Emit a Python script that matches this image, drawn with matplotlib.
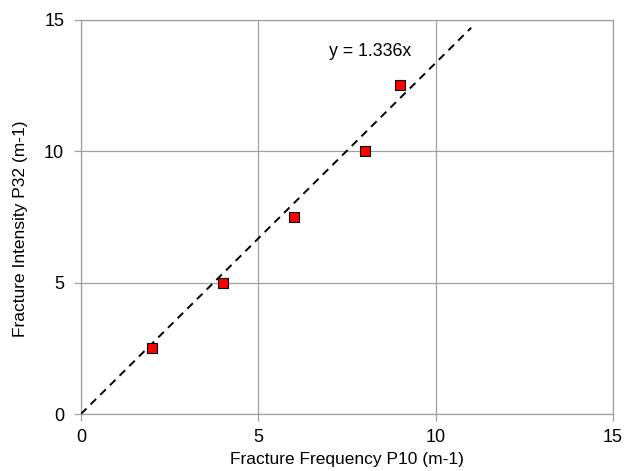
import numpy as np
import matplotlib.pyplot as plt

plt.rcParams['font.family'] = ['Liberation Sans', 'DejaVu Sans']

# measured fracture data
p10 = [2, 4, 6, 8, 9]
p32 = [2.5, 5, 7.5, 10, 12.5]
slope = 1.336
fit_x = [0, 11]

fig = plt.figure(figsize=(6.32, 4.71), dpi=100)
ax = fig.add_axes([0.128, 0.121, 0.842, 0.837])

fit_y = [slope * v for v in fit_x]
ax.plot(fit_x, fit_y, color='black', linestyle=(0, (4, 3)), linewidth=1.4, zorder=3)
ax.plot(p10, p32, linestyle='none', marker='s', markersize=7,
        markerfacecolor='red', markeredgecolor='black', markeredgewidth=0.8, zorder=4)
ax.text(7.0, 13.8, 'y = 1.336x', fontsize=12.8, ha='left', va='center')

ax.set_xlim(0, 15)
ax.set_ylim(0, 15)
ax.set_xticks([0, 5, 10, 15])
ax.set_yticks([0, 5, 10, 15])
ax.grid(True, color='#a0a0a0', linewidth=0.9)
ax.set_axisbelow(True)
for s in ax.spines.values():
    s.set_color('#a0a0a0')
    s.set_linewidth(0.9)
ax.tick_params(colors='#a0a0a0', labelcolor='black', labelsize=13, length=5, width=0.9)
ax.tick_params(axis='y', pad=7)
ax.tick_params(axis='x', pad=6)

ax.set_xlabel('Fracture Frequency P10 (m-1)', fontsize=12.5, labelpad=4)
ax.set_ylabel('Fracture Intensity P32 (m-1)', fontsize=12.5, labelpad=13)
ax.yaxis.set_label_coords(-0.1, 0.47)

fig.savefig('out.png', dpi=100)
